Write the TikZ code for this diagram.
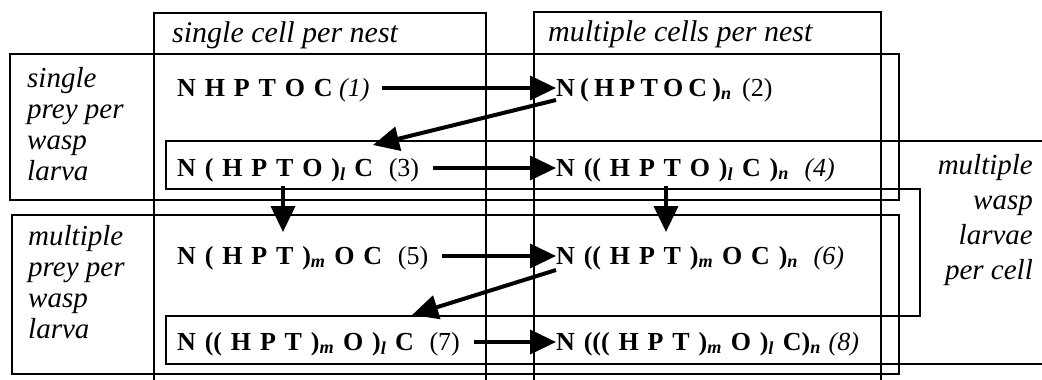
\documentclass[tikz,border=0pt]{standalone}
\usepackage{fontspec}
\setmainfont{Liberation Serif}
\usetikzlibrary{arrows.meta,calc}
\newcommand{\gp}{\hspace{0.34em}}
\newcommand{\gq}{\hspace{0.2em}}
\newcommand{\sbs}[1]{\textsubscript{\itshape #1}}
\begin{document}
\begin{tikzpicture}[x=1pt,y=-1pt,
  frame/.style={line width=2.2pt, line join=miter},
  arr/.style={line width=4pt, -{Triangle[length=26pt,width=24pt]}},
  lab/.style={font=\fontsize{29}{31}\selectfont\itshape, inner sep=0pt, align=left},
  head/.style={font=\fontsize{30}{31}\selectfont\itshape, inner sep=0pt, anchor=base west},
  form/.style={font=\fontsize{26}{30}\selectfont\bfseries, inner sep=0pt, anchor=base west},
]
\useasboundingbox (0,0) rectangle (1042,380);
% column boxes
\draw[frame] (154,13) rectangle (486,390);
\draw[frame] (534,12) rectangle (881,390);
% row boxes
\draw[frame] (10,54) rectangle (899,200);
\draw[frame] (12,215) rectangle (899,374);
% multiple wasp larvae per cell region
\draw[frame] (166,141) -- (1050,141) -- (1050,364) -- (166,364) -- (166,316)
  -- (920,316) -- (920,189) -- (166,189) -- cycle;
% headers
\node[head] (h1) at (172,42) {single cell per nest};
\node[head] (h2) at (548,41) {multiple cells per nest};
% row labels
\node[lab, anchor=north west] (r1) at (27,67) {single\\prey per\\wasp\\larva};
\node[lab, anchor=north west] (r2) at (28,225) {multiple\\prey per\\wasp\\larva};
\node[lab, align=right, anchor=north east, font=\fontsize{29}{35}\selectfont\itshape] (r3) at (1033,154) {multiple\\wasp\\larvae\\per cell};
% formulas
\node[form] (n1) at (177,96) {N\gp H\gp P\gp T\gp O\gp C\hspace{0.25em}{\mdseries\itshape(1)}};
\node[form] (n2) at (556,96) {N\gq(\gq H\gq P\gq T\gq O\gq C\gq)\sbs{n}\hspace{0.4em}{\mdseries(2)}};
\node[form] (n3) at (177,176) {N\gp(\gp H\gp P\gp T\gp O\gp)\sbs{l}\gp C\hspace{0.6em}{\mdseries(3)}};
\node[form] (n4) at (556,176) {N\gp((\gp H\gp P\gp T\gp O\gp)\sbs{l}\gp C\gp)\sbs{n}\hspace{0.6em}{\mdseries\itshape(4)}};
\node[form] (n5) at (177,264) {N\gp(\gp H\gp P\gp T\gp)\sbs{m}\gp O\gp C\hspace{0.6em}{\mdseries(5)}};
\node[form] (n6) at (556,264) {N\gp((\gp H\gp P\gp T\gp)\sbs{m}\gp O\gp C\gp)\sbs{n}\hspace{0.6em}{\mdseries\itshape(6)}};
\node[form] (n7) at (177,350) {N\gp((\gp H\gp P\gp T\gp)\sbs{m}\gp O\gp)\sbs{l}\gp C\hspace{0.6em}{\mdseries(7)}};
\node[form] (n8) at (556,350) {N\gp(((\gp H\gp P\gp T\gp)\sbs{m}\gp O\gp)\sbs{l}\gp C)\sbs{n}\hspace{0.3em}{\mdseries\itshape(8)}};
% arrows
\draw[arr] ($(n1.base east)+(12,-8)$) -- ($(n2.base west)+(0,-8)$);
\draw[arr] ($(n3.base east)+(14,-8)$) -- ($(n4.base west)+(0,-8)$);
\draw[arr] ($(n5.base east)+(14,-8)$) -- ($(n6.base west)+(0,-8)$);
\draw[arr] ($(n7.base east)+(14,-8)$) -- ($(n8.base west)+(0,-8)$);
\draw[arr] ($(n2.base west)+(0,4)$) -- ($(n3.base west)+(196,-31)$);
\draw[arr] ($(n6.base west)+(0,6)$) -- ($(n7.base west)+(235,-35)$);
\draw[arr] ($(n3.base west)+(106,10)$) -- ($(n5.base west)+(106,-32)$);
\draw[arr] ($(n4.base west)+(110,10)$) -- ($(n6.base west)+(110,-32)$);
\end{tikzpicture}
\end{document}
